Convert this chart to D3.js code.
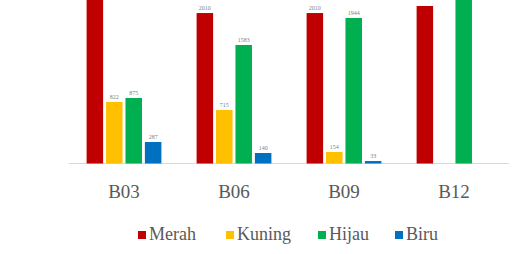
<!DOCTYPE html>
<html>
<head>
<meta charset="utf-8">
<script src="https://cdn.jsdelivr.net/npm/d3@7"></script>
<style>
  body { margin: 0; background: #fff; }
  svg text { font-family: "Liberation Serif", "DejaVu Serif", serif; }
</style>
</head>
<body>
<div id="chart"></div>
<script>
// Datos
const categories = ["B03", "B06", "B09", "B12"];
const seriesNames = ["Merah", "Kuning", "Hijau", "Biru"];
const merah  = [2400, 2010, 2010, 2104];
const kuning = [822, 715, 154, 0];
const hijau  = [875, 1583, 1944, 2500];
const biru   = [287, 140, 33, 0];
const colors = ["#C00000", "#FFC000", "#00B050", "#0070C0"];

const values = [merah, kuning, hijau, biru];

const width = 517, height = 254;
const margin = {top: 0, left: 69, right: 8};
const baseY = 163.5;

const svg = d3.select("#chart").append("svg")
  .attr("width", width)
  .attr("height", height);

// Escalas
const x0 = d3.scaleBand()
  .domain(categories)
  .range([margin.left, width - margin.right])
  .paddingInner(0.32)
  .paddingOuter(0.16);

const x1 = d3.scaleBand()
  .domain(seriesNames)
  .range([0, x0.bandwidth()])
  .paddingInner(0.15)
  .paddingOuter(0);

// 1583 -> 118.5px
const y = d3.scaleLinear()
  .domain([0, 1583])
  .range([baseY, baseY - 118.5]);

// linea del eje
svg.append("line")
  .attr("x1", margin.left).attr("x2", width - margin.right)
  .attr("y1", baseY).attr("y2", baseY)
  .style("stroke", "#d9d9d9")
  .style("stroke-width", 1);

const rows = [];
categories.forEach((c, i) => {
  seriesNames.forEach((s, j) => {
    rows.push({cat: c, serie: s, value: values[j][i], color: colors[j]});
  });
});

const g = svg.append("g");

g.selectAll("rect")
  .data(rows.filter(d => d.value > 0))
  .enter().append("rect")
  .attr("x", d => x0(d.cat) + x1(d.serie))
  .attr("width", x1.bandwidth())
  .attr("y", d => y(d.value))
  .attr("height", d => baseY - y(d.value))
  .style("fill", d => d.color);

// etiquetas de los valores (las que quedan fuera del cuadro no se ven)
g.selectAll(".lbl")
  .data(rows.filter(d => d.value > 0 && y(d.value) > 9))
  .enter().append("text")
  .attr("class", "lbl")
  .attr("x", d => x0(d.cat) + x1(d.serie) + x1.bandwidth() / 2)
  .attr("y", d => y(d.value) - 3)
  .attr("text-anchor", "middle")
  .attr("font-size", "6px")
  .attr("fill", "#7f7f7f")
  .text(d => d.value);

// etiquetas de categorias
svg.selectAll(".cat")
  .data(categories)
  .enter().append("text")
  .attr("class", "cat")
  .attr("x", d => x0(d) + x0.bandwidth() / 2)
  .attr("y", 198)
  .attr("text-anchor", "middle")
  .attr("font-size", "19px")
  .attr("fill", "#595959")
  .text(d => d);

// leyenda
const legendX = [138, 226, 318, 395];
const leg = svg.selectAll(".leg")
  .data(seriesNames)
  .enter().append("g")
  .attr("class", "leg")
  .attr("transform", (d, i) => `translate(${legendX[i]},235)`);

leg.append("rect")
  .attr("x", 0).attr("y", -4)
  .attr("width", 8).attr("height", 8)
  .style("fill", (d, i) => colors[i]);

leg.append("text")
  .attr("x", 11)
  .attr("y", 5)
  .attr("font-size", "18px")
  .attr("fill", "#595959")
  .text(d => d);
</script>
</body>
</html>
